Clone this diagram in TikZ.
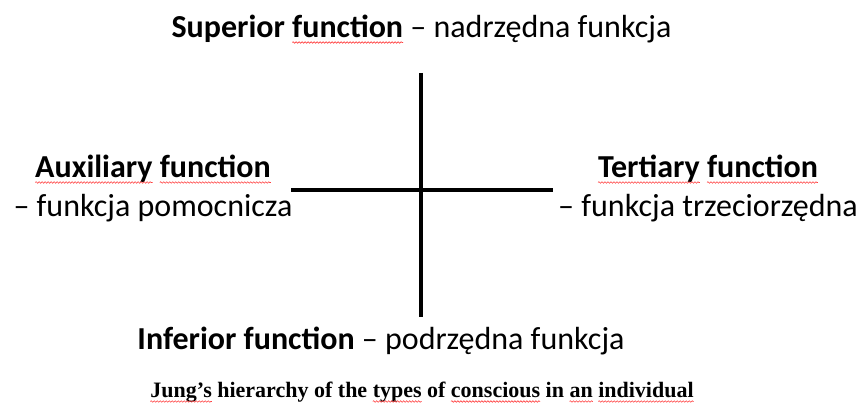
\documentclass[tikz,border=0pt]{standalone}
\usepackage{fontspec}
\setmainfont{Carlito}
\newfontfamily\capfont{Liberation Serif}
\usetikzlibrary{decorations.pathmorphing}

% red wavy spell-check underline
\newcommand\spellerr[1]{\tikz[baseline=(w.base)]{\node[inner sep=0pt,outer sep=0pt] (w) {#1};
  \draw[overlay,red!75,line width=0.6pt,decorate,decoration={snake,amplitude=0.8pt,segment length=3pt}]
    ([yshift=-4.5pt]w.base west) -- ([yshift=-4.5pt]w.base east);}}

\tikzset{
  label/.style={anchor=base,inner sep=0pt,font=\fontsize{32}{39}\selectfont,align=center},
  caption/.style={anchor=base,inner sep=0pt,font=\capfont\bfseries\fontsize{22}{24}\selectfont}
}

\begin{document}
\begin{tikzpicture}[x=1pt,y={(0pt,-1pt)}]
  \useasboundingbox (0,0) rectangle (861,403);

  \coordinate (top)    at (421,73);
  \coordinate (bottom) at (421,317);
  \coordinate (left)   at (291,190);
  \coordinate (right)  at (553,190);

  % the cross
  \draw [line width=3.5pt] (top)  -- (bottom)
                           (left) -- (right);

  \node[label] (sup) at (421.5,38) {\textbf{Superior \spellerr{function}} -- nadrzędna funkcja};
  \node[label] (aux) at (153,217) {\textbf{\spellerr{Auxiliary} \spellerr{function}}\\-- funkcja pomocnicza};
  \node[label] (ter) at (708,217) {\textbf{\spellerr{Tertiary} \spellerr{function}}\\-- funkcja trzeciorzędna};
  \node[label] (inf) at (381,349) {\textbf{Inferior function} -- podrzędna funkcja};

  \node[caption] (cap) at (422,397) {\spellerr{Jung’s} hierarchy of the \spellerr{types} of \spellerr{conscious} in \spellerr{an} \spellerr{individual}};
\end{tikzpicture}
\end{document}
